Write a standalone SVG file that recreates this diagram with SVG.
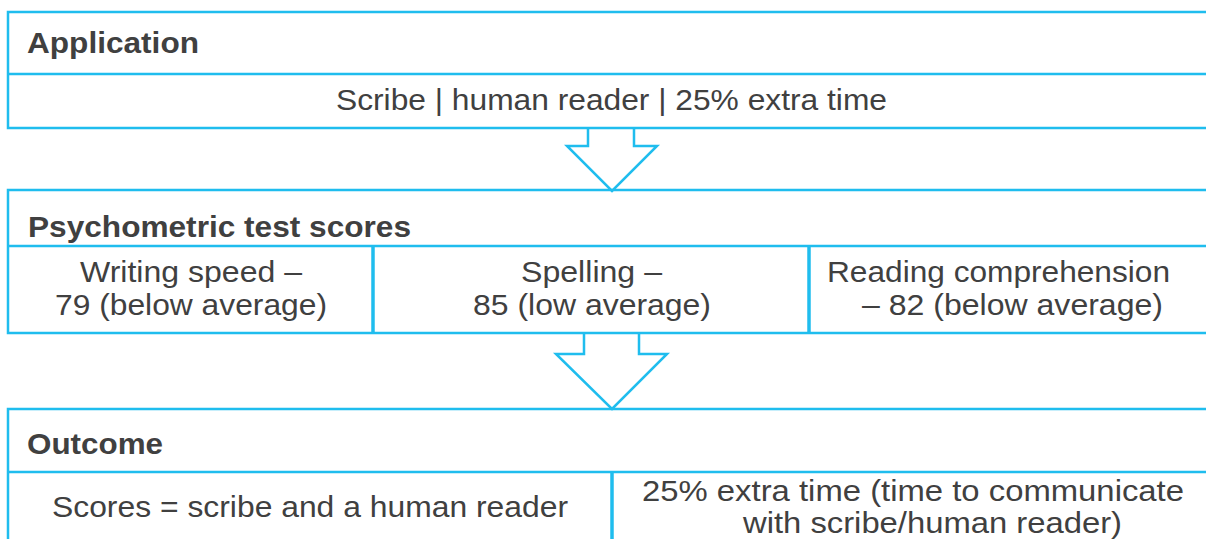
<svg xmlns="http://www.w3.org/2000/svg" width="1206" height="539" viewBox="0 0 1206 539">
<style>
.box{fill:#ffffff;stroke:#1fbdee;stroke-width:2.5}
.ln{stroke:#1fbdee;stroke-width:2.5;fill:none}
.dv{stroke:#1fbdee;stroke-width:3.5;fill:none}
.arr{fill:none;stroke:#1fbdee;stroke-width:2.5;stroke-linejoin:miter}
.t{font-family:"Liberation Sans",Arial,sans-serif;font-size:29px;fill:#404040}
.h{font-family:"Liberation Sans",Arial,sans-serif;font-size:30px;font-weight:bold;fill:#404040}
</style>
<rect width="1206" height="539" fill="#ffffff"/>
<g id="application">
<rect class="box" x="8" y="12" width="1220" height="116"/>
<line class="ln" x1="8" y1="74" x2="1228" y2="74"/>
<text class="h" x="27" y="53" textLength="172" lengthAdjust="spacingAndGlyphs">Application</text>
<text class="t" x="336" y="110" textLength="551" lengthAdjust="spacingAndGlyphs">Scribe | human reader | 25% extra time</text>
</g>
<g id="psychometric">
<rect class="box" x="8" y="190" width="1220" height="143"/>
<line class="ln" x1="8" y1="246" x2="1228" y2="246"/>
<line class="dv" x1="373" y1="246" x2="373" y2="333"/>
<line class="dv" x1="809" y1="246" x2="809" y2="333"/>
<text class="h" x="28" y="237" textLength="383" lengthAdjust="spacingAndGlyphs">Psychometric test scores</text>
<text class="t" x="80" y="282" textLength="222" lengthAdjust="spacingAndGlyphs">Writing speed –</text>
<text class="t" x="55" y="315" textLength="272" lengthAdjust="spacingAndGlyphs">79 (below average)</text>
<text class="t" x="521" y="282" textLength="141" lengthAdjust="spacingAndGlyphs">Spelling –</text>
<text class="t" x="473" y="315" textLength="238" lengthAdjust="spacingAndGlyphs">85 (low average)</text>
<text class="t" x="827" y="282" textLength="343" lengthAdjust="spacingAndGlyphs">Reading comprehension</text>
<text class="t" x="862" y="315" textLength="301" lengthAdjust="spacingAndGlyphs">– 82 (below average)</text>
</g>
<g id="outcome">
<rect class="box" x="8" y="409" width="1220" height="160"/>
<line class="ln" x1="8" y1="472" x2="1228" y2="472"/>
<line class="dv" x1="612" y1="472" x2="612" y2="569"/>
<text class="h" x="27" y="454" textLength="136" lengthAdjust="spacingAndGlyphs">Outcome</text>
<text class="t" x="52" y="517" textLength="516" lengthAdjust="spacingAndGlyphs">Scores = scribe and a human reader</text>
<text class="t" x="642" y="501" textLength="542" lengthAdjust="spacingAndGlyphs">25% extra time (time to communicate</text>
<text class="t" x="743" y="533" textLength="379" lengthAdjust="spacingAndGlyphs">with scribe/human reader)</text>
</g>
<g id="connectors">
<path class="arr" d="M588,128 L588,146 L567,146 L612,191 L657,146 L634,146 L634,128"/>
<path class="arr" d="M584,333 L584,354 L556,354 L612,409 L667,354 L639,354 L639,333"/>
</g>
</svg>
